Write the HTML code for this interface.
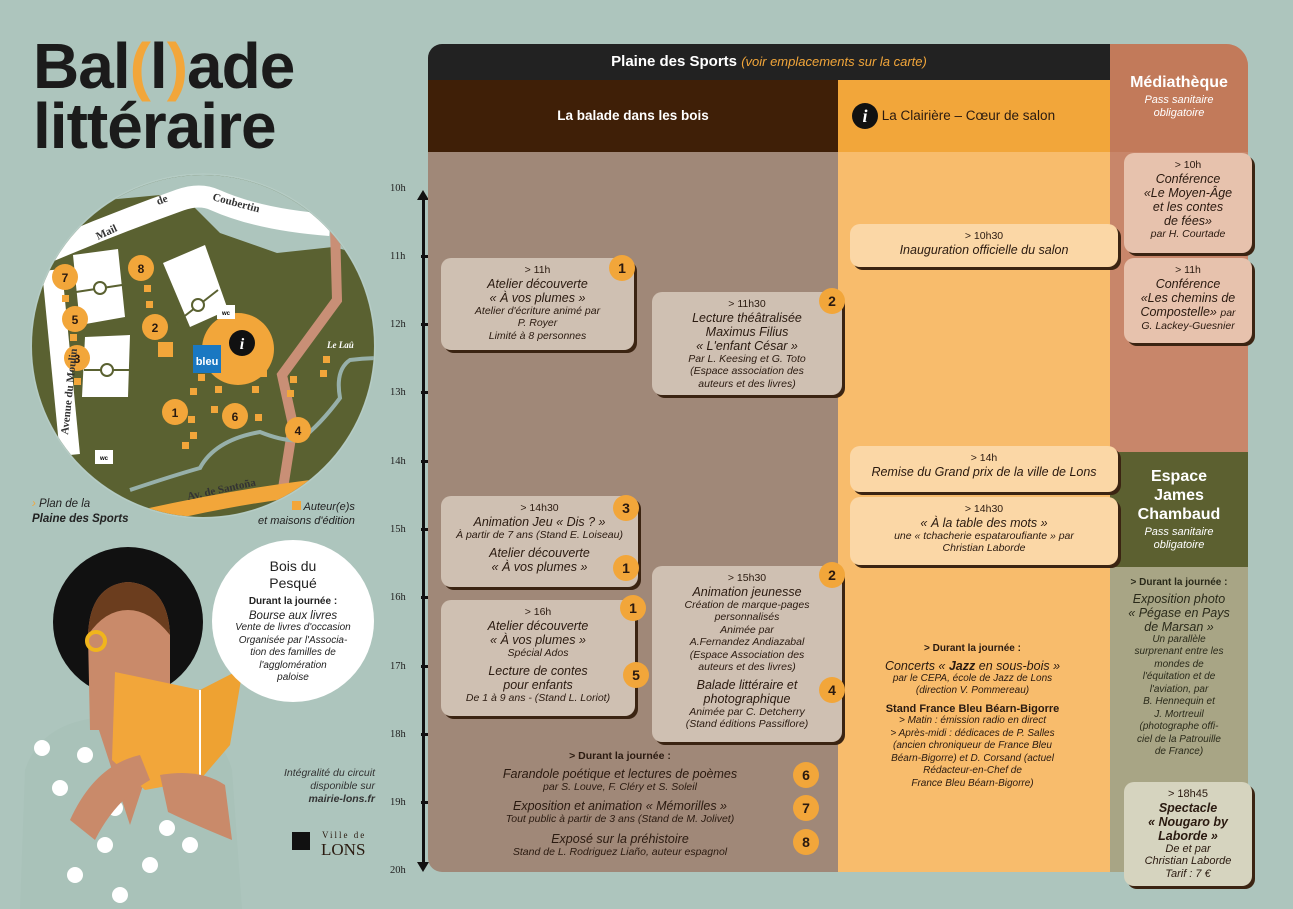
<!DOCTYPE html>
<html><head><meta charset="utf-8"><style>
*{margin:0;padding:0;box-sizing:border-box}
body{width:1293px;height:909px;background:#adc5bd;position:relative;overflow:hidden;font-family:"Liberation Sans",sans-serif;color:#2a1a10}
.a{position:absolute}
.box{position:absolute;border-radius:10px;box-shadow:3px 3px 0 #3b2412;text-align:center;font-size:10.5px;line-height:12.5px;padding-top:6px}
.box i{display:block}
.t{font-size:12.5px;line-height:14px;font-style:italic}
.s{font-style:italic;font-size:10.5px}
.b{position:absolute;width:26px;height:26px;border-radius:50%;background:#f2a63a;font-weight:bold;font-size:14px;line-height:26px;text-align:center;color:#2a1a10}
.tl{position:absolute;left:390px;font-size:10.5px;color:#222;font-family:"Liberation Serif",serif}
.tk{position:absolute;left:421px;width:10px;height:3px;background:#111}
</style></head><body>

<!-- Title -->
<div class="a" style="left:33px;top:36px;font-size:64px;font-weight:900;letter-spacing:-1px;line-height:60px;color:#1b1b1b">Bal<span style="color:#f2a63a">(</span>l<span style="color:#f2a63a">)</span>ade<br>littéraire</div>

<!-- Map (page coords) -->
<svg class="a" style="left:0;top:0" width="420" height="540">
<defs><clipPath id="c"><circle cx="203" cy="346" r="171"/></clipPath></defs>
<circle cx="203" cy="346" r="172" fill="none" stroke="#b7cdc6" stroke-width="1"/>
<g clip-path="url(#c)">
<rect x="0" y="170" width="420" height="370" fill="#5a6131"/>
<path d="M0 170 L420 170 L420 257 L373 257 L333 247 L277 253 L220 233 L187 200 L160 195 L0 210Z" fill="#adc5bd"/>
<path d="M40 255 Q110 225 180 200 Q200 193 215 200 Q260 220 330 225" stroke="#fff" stroke-width="22" fill="none"/>
<path d="M52 270 L70 455" stroke="#fff" stroke-width="20" fill="none"/>
<path d="M335 228 L337 300 L282 375 L293 425 L278 520" stroke="#c98f76" stroke-width="10" fill="none"/>
<path d="M130 490 Q175 475 200 468 Q215 440 260 432 Q285 442 300 440 Q320 425 340 398 Q335 370 350 360 Q365 358 380 358" stroke="#97b0aa" stroke-width="4" fill="none"/>
<path d="M140 510 Q230 490 310 480 L315 495 Q230 505 150 525Z" fill="#f2a63a"/>
<g fill="#fff"><polygon points="73,255 118,249 125,317 80,325"/><polygon points="163,263 205,245 228,310 190,327"/><polygon points="85,337 130,335 128,397 82,397"/></g>
<g stroke="#5a6131" stroke-width="2" fill="#fff"><line x1="76" y1="292" x2="122" y2="285"/><circle cx="100" cy="288" r="6"/><line x1="177" y1="322" x2="218" y2="290"/><circle cx="198" cy="305" r="6"/><line x1="84" y1="370" x2="129" y2="370"/><circle cx="107" cy="370" r="6"/></g>
<circle cx="238" cy="349" r="36" fill="#f2a63a"/>
<circle cx="242" cy="343" r="13" fill="#111"/><text x="242" y="349" font-size="16" font-weight="bold" font-style="italic" fill="#fff" text-anchor="middle" font-family="Liberation Serif">i</text>
<rect x="193" y="345" width="28" height="28" fill="#1a78c2"/><text x="207" y="365" font-size="11" fill="#fff" text-anchor="middle" font-weight="bold">bleu</text>
<rect x="217" y="305" width="18" height="14" fill="#fff"/><text x="226" y="315" font-size="6" text-anchor="middle" font-weight="bold">wc</text>
<rect x="95" y="450" width="18" height="14" fill="#fff"/><text x="104" y="460" font-size="6" text-anchor="middle" font-weight="bold">wc</text>
<g fill="#f2a63a"><rect x="158" y="342" width="15" height="15"/>
<rect x="62" y="295" width="7" height="7"/><rect x="70" y="334" width="7" height="7"/><rect x="74" y="378" width="7" height="7"/><rect x="144" y="285" width="7" height="7"/><rect x="146" y="301" width="7" height="7"/><rect x="198" y="374" width="7" height="7"/><rect x="190" y="388" width="7" height="7"/><rect x="215" y="386" width="7" height="7"/><rect x="211" y="406" width="7" height="7"/><rect x="188" y="416" width="7" height="7"/><rect x="190" y="432" width="7" height="7"/><rect x="182" y="442" width="7" height="7"/><rect x="252" y="386" width="7" height="7"/><rect x="255" y="414" width="7" height="7"/><rect x="260" y="370" width="7" height="7"/><rect x="290" y="376" width="7" height="7"/><rect x="287" y="390" width="7" height="7"/><rect x="323" y="356" width="7" height="7"/><rect x="320" y="370" width="7" height="7"/></g>
<g font-weight="bold" font-size="12" text-anchor="middle" fill="#2a1a10">
<circle cx="65" cy="277" r="13" fill="#f2a63a"/><text x="65" y="282">7</text>
<circle cx="141" cy="268" r="13" fill="#f2a63a"/><text x="141" y="273">8</text>
<circle cx="75" cy="319" r="13" fill="#f2a63a"/><text x="75" y="324">5</text>
<circle cx="155" cy="327" r="13" fill="#f2a63a"/><text x="155" y="332">2</text>
<circle cx="77" cy="358" r="13" fill="#f2a63a"/><text x="77" y="363">3</text>
<circle cx="175" cy="412" r="13" fill="#f2a63a"/><text x="175" y="417">1</text>
<circle cx="235" cy="416" r="13" fill="#f2a63a"/><text x="235" y="421">6</text>
<circle cx="298" cy="430" r="13" fill="#f2a63a"/><text x="298" y="435">4</text></g>
<g font-family="Liberation Serif" font-weight="bold" font-size="11" fill="#333"><text x="98" y="240" transform="rotate(-25 98 240)">Mail</text><text x="158" y="205" transform="rotate(-20 158 205)">de</text><text x="212" y="200" transform="rotate(15 212 200)">Coubertin</text><text x="68" y="435" transform="rotate(-84 68 435)">Avenue   du   Moulin</text><text x="188" y="500" transform="rotate(-12 188 500)">Av. de Santoña</text></g>
<text x="327" y="348" font-family="Liberation Serif" font-style="italic" font-size="9" fill="#fff" font-weight="bold">Le Laû</text>
</g>
</svg>
<div class="a" style="left:32px;top:497px;font-size:11.5px;font-style:italic;line-height:15px;color:#222"><span style="color:#f2a63a">›</span> Plan de la<br><b>Plaine des Sports</b></div>
<div class="a" style="left:258px;top:500px;font-size:11px;font-style:italic;line-height:14px;text-align:right;color:#222"><span style="display:inline-block;width:9px;height:9px;background:#f2a63a"></span> Auteur(e)s<br>et maisons d'édition</div>

<!-- Woman -->
<svg class="a" style="left:0;top:540px" width="420" height="369">
<circle cx="128" cy="82" r="75" fill="#111"/>
<path d="M20 369 L25 230 Q40 185 95 178 L165 178 Q220 185 232 230 L242 369Z" fill="#a9c2b9"/>
<path d="M95 178 L130 285 L165 178Z" fill="#c98a6a"/>
<path d="M88 95 Q90 45 128 42 Q168 45 170 95 L170 190 L90 190Z" fill="#c98a6a"/>
<path d="M88 95 Q90 45 128 42 Q168 45 170 95 Q150 70 128 70 Q105 70 88 95Z" fill="#6b3d1e"/>
<circle cx="96" cy="101" r="9" fill="none" stroke="#f0b51c" stroke-width="4"/>
<g fill="#fff"><circle cx="42" cy="208" r="8"/><circle cx="85" cy="215" r="8"/><circle cx="60" cy="248" r="8"/><circle cx="115" cy="268" r="8"/><circle cx="167" cy="288" r="8"/><circle cx="105" cy="305" r="8"/><circle cx="150" cy="325" r="8"/><circle cx="75" cy="335" r="8"/><circle cx="120" cy="355" r="8"/><circle cx="190" cy="305" r="8"/></g>
<path d="M115 132 L200 150 L200 240 L145 250 L112 220Z" fill="#f2a63a"/>
<path d="M200 150 L243 128 L230 205 L200 240Z" fill="#eea232"/>
<line x1="200" y1="150" x2="200" y2="240" stroke="#fff" stroke-width="2"/>
<path d="M70 280 Q95 225 140 215 L150 240 Q115 260 95 300Z" fill="#c98a6a"/>
<path d="M160 235 Q200 228 225 245 L232 300 Q195 285 168 272Z" fill="#c98a6a"/>
<circle cx="293" cy="81" r="81" fill="#fff"/>
<polygon points="215,70 225,110 240,100" fill="#fff"/>
</svg>
<div class="a" style="left:215px;top:558px;width:156px;text-align:center;color:#222">
<div style="font-size:14px;line-height:17px">Bois du<br>Pesqué</div>
<div style="font-size:10px;font-weight:bold;margin-top:4px">Durant la journée :</div>
<div style="font-size:11.5px;font-style:italic;margin-top:3px">Bourse aux livres</div>
<div style="font-size:10px;font-style:italic;line-height:12.5px">Vente de livres d'occasion<br>Organisée par l'Associa-<br>tion des familles de<br>l'agglomération<br>paloise</div></div>
<div class="a" style="left:255px;top:767px;width:120px;text-align:right;font-size:10.5px;font-style:italic;line-height:13px;color:#333">Intégralité du circuit disponible sur<br><b>mairie-lons.fr</b></div>
<div class="a" style="left:292px;top:832px;width:18px;height:18px;background:#111"></div>
<div class="a" style="left:322px;top:830px;font-family:'Liberation Serif',serif;font-size:9px;letter-spacing:2px">Ville de</div>
<div class="a" style="left:321px;top:840px;font-family:'Liberation Serif',serif;font-size:17px">LONS</div>

<!-- timeline -->
<div class="a" style="left:422px;top:198px;width:3px;height:668px;background:#111"></div>
<div class="a" style="left:417px;top:190px;border-left:6px solid transparent;border-right:6px solid transparent;border-bottom:10px solid #111"></div>
<div class="a" style="left:417px;top:862px;border-left:6px solid transparent;border-right:6px solid transparent;border-top:10px solid #111"></div>
<div class="tl" style="top:183px">10h</div><div class="tl" style="top:251px">11h</div><div class="tl" style="top:319px">12h</div><div class="tl" style="top:387px">13h</div><div class="tl" style="top:456px">14h</div><div class="tl" style="top:524px">15h</div><div class="tl" style="top:592px">16h</div><div class="tl" style="top:661px">17h</div><div class="tl" style="top:729px">18h</div><div class="tl" style="top:797px">19h</div><div class="tl" style="top:865px">20h</div>
<div class="tk" style="top:255px"></div><div class="tk" style="top:323px"></div><div class="tk" style="top:391px"></div><div class="tk" style="top:460px"></div><div class="tk" style="top:528px"></div><div class="tk" style="top:596px"></div><div class="tk" style="top:665px"></div><div class="tk" style="top:733px"></div><div class="tk" style="top:801px"></div>

<!-- columns -->
<div class="a" style="left:428px;top:44px;width:682px;height:36px;background:#222;border-radius:14px 0 0 0;color:#fff;text-align:center;font-size:15px;font-weight:bold;line-height:36px">Plaine des Sports <span style="color:#f2a63a;font-weight:normal;font-style:italic;font-size:13px">(voir emplacements sur la carte)</span></div>
<div class="a" style="left:428px;top:80px;width:410px;height:72px;background:#3f1f07;color:#fff;text-align:center;font-size:13.5px;font-weight:bold;line-height:72px">La balade dans les bois</div>
<div class="a" style="left:838px;top:80px;width:272px;height:72px;background:#f2a63a;color:#2a1a10;font-size:13.5px;line-height:72px;padding-left:14px"><span style="display:inline-block;width:26px;height:26px;border-radius:50%;background:#111;color:#fff;text-align:center;line-height:26px;font-family:'Liberation Serif';font-weight:bold;font-style:italic;font-size:18px;vertical-align:middle">i</span> La Clairière – Cœur de salon</div>
<div class="a" style="left:428px;top:152px;width:410px;height:720px;background:#a08878;border-radius:0 0 0 14px"></div>
<div class="a" style="left:838px;top:152px;width:272px;height:720px;background:#f8bc6c"></div>
<div class="a" style="left:1110px;top:44px;width:138px;height:408px;background:#c8866a;border-radius:0 22px 0 0"></div>
<div class="a" style="left:1110px;top:44px;width:138px;height:108px;background:#c27a5a;border-radius:0 22px 0 0;color:#fff;text-align:center;padding-top:30px"><div style="font-size:16px;font-weight:bold">Médiathèque</div><div style="font-size:11px;font-style:italic;line-height:13px;margin-top:2px">Pass sanitaire<br>obligatoire</div></div>
<div class="a" style="left:1110px;top:452px;width:138px;height:115px;background:#5c6030;color:#fff;text-align:center;padding-top:15px"><div style="font-size:16px;font-weight:bold;line-height:19px">Espace<br>James<br>Chambaud</div><div style="font-size:11px;font-style:italic;line-height:13px;margin-top:2px">Pass sanitaire<br>obligatoire</div></div>
<div class="a" style="left:1110px;top:567px;width:138px;height:305px;background:#a8a585;text-align:center;padding-top:10px;font-size:10px;line-height:12.5px;color:#2a2a1a">
<b>&gt; Durant la journée :</b><div class="t" style="margin-top:2px">Exposition photo<br>« Pégase en Pays<br>de Marsan »</div><i style="display:block">Un parallèle<br>surprenant entre les<br>mondes de<br>l'équitation et de<br>l'aviation, par<br>B. Hennequin et<br>J. Mortreuil<br>(photographe offi-<br>ciel de la Patrouille<br>de France)</i></div>

<!-- balade boxes -->
<div class="box" style="left:441px;top:258px;width:193px;height:92px;background:#cfc0b2">&gt; 11h<div class="t">Atelier découverte<br>« À vos plumes »</div><i>Atelier d'écriture animé par<br>P. Royer<br>Limité à 8 personnes</i></div>
<div class="b" style="left:609px;top:255px">1</div>
<div class="box" style="left:652px;top:292px;width:190px;height:103px;background:#cfc0b2">&gt; 11h30<div class="t">Lecture théâtralisée<br>Maximus Filius<br>« L'enfant César »</div><i>Par L. Keesing et G. Toto<br>(Espace association des<br>auteurs et des livres)</i></div>
<div class="b" style="left:819px;top:288px">2</div>
<div class="box" style="left:441px;top:496px;width:197px;height:91px;background:#cfc0b2">&gt; 14h30<div class="t">Animation Jeu « Dis ? »</div><i>À partir de 7 ans (Stand E. Loiseau)</i><div class="t" style="margin-top:5px">Atelier découverte<br>« À vos plumes »</div></div>
<div class="b" style="left:613px;top:495px">3</div><div class="b" style="left:613px;top:555px">1</div>
<div class="box" style="left:652px;top:566px;width:190px;height:176px;background:#cfc0b2">&gt; 15h30<div class="t">Animation jeunesse</div><i>Création de marque-pages<br>personnalisés<br>Animée par<br>A.Fernandez Andiazabal<br>(Espace Association des<br>auteurs et des livres)</i><div class="t" style="margin-top:4px">Balade littéraire et<br>photographique</div><i>Animée par C. Detcherry<br>(Stand éditions Passiflore)</i></div>
<div class="b" style="left:819px;top:562px">2</div><div class="b" style="left:819px;top:677px">4</div>
<div class="box" style="left:441px;top:600px;width:194px;height:116px;background:#cfc0b2">&gt; 16h<div class="t">Atelier découverte<br>« À vos plumes »</div><i>Spécial Ados</i><div class="t" style="margin-top:5px">Lecture de contes<br>pour enfants</div><i>De 1 à 9 ans - (Stand L. Loriot)</i></div>
<div class="b" style="left:620px;top:595px">1</div><div class="b" style="left:623px;top:662px">5</div>
<div class="a" style="left:470px;top:750px;width:300px;text-align:center;font-size:10.5px;line-height:12.5px;color:#2a1a10"><b>&gt; Durant la journée :</b>
<div class="t" style="margin-top:4px">Farandole poétique et lectures de poèmes</div><i>par S. Louve, F. Cléry et S. Soleil</i>
<div class="t" style="margin-top:6px">Exposition et animation « Mémorilles »</div><i>Tout public à partir de 3 ans (Stand de M. Jolivet)</i>
<div class="t" style="margin-top:6px">Exposé sur la préhistoire</div><i>Stand de L. Rodriguez Liaño, auteur espagnol</i></div>
<div class="b" style="left:793px;top:762px">6</div><div class="b" style="left:793px;top:795px">7</div><div class="b" style="left:793px;top:829px">8</div>

<!-- clairière -->
<div class="box" style="left:850px;top:224px;width:268px;height:43px;background:#fbd7a6">&gt; 10h30<div class="t">Inauguration officielle du salon</div></div>
<div class="box" style="left:850px;top:446px;width:268px;height:46px;background:#fbd7a6">&gt; 14h<div class="t">Remise du Grand prix de la ville de Lons</div></div>
<div class="box" style="left:850px;top:497px;width:268px;height:68px;background:#fbd7a6">&gt; 14h30<div class="t">« À la table des mots »</div><i>une « tchacherie espataroufiante » par<br>Christian Laborde</i></div>
<div class="a" style="left:850px;top:643px;width:245px;text-align:center;font-size:10px;line-height:12.5px;color:#2a1a10"><b>&gt; Durant la journée :</b><div class="t" style="margin-top:3px">Concerts « <b>Jazz</b> en sous-bois »</div><i>par le CEPA, école de Jazz de Lons<br>(direction V. Pommereau)</i><div style="font-weight:bold;font-size:11px;margin-top:5px">Stand France Bleu Béarn-Bigorre</div><i>&gt; Matin : émission radio en direct<br>&gt; Après-midi : dédicaces de P. Salles<br>(ancien chroniqueur de France Bleu<br>Béarn-Bigorre) et D. Corsand (actuel<br>Rédacteur-en-Chef de<br>France Bleu Béarn-Bigorre)</i></div>

<!-- médiathèque -->
<div class="box" style="left:1124px;top:153px;width:128px;height:100px;background:#e7c2ad">&gt; 10h<div class="t">Conférence<br>«Le Moyen-Âge<br>et les contes<br>de fées»</div><i>par H. Courtade</i></div>
<div class="box" style="left:1124px;top:258px;width:128px;height:85px;background:#e7c2ad">&gt; 11h<div class="t">Conférence<br>«Les chemins de<br>Compostelle» <span class="s">par</span></div><i>G. Lackey-Guesnier</i></div>
<div class="box" style="left:1124px;top:782px;width:128px;height:104px;background:#d6d4bf;font-size:11px">&gt; 18h45<div class="t" style="font-weight:bold">Spectacle<br>« Nougaro by<br>Laborde »</div><i>De et par<br>Christian Laborde<br>Tarif : 7 €</i></div>
</body></html>
